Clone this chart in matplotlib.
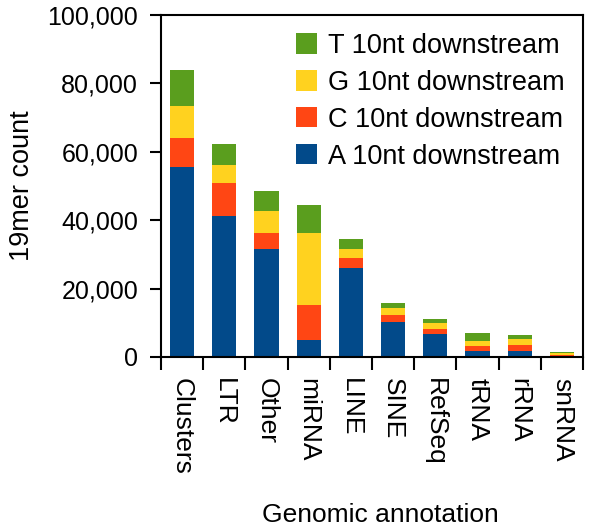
import matplotlib
matplotlib.use("Agg")
import matplotlib.pyplot as plt
import numpy as np
from matplotlib.ticker import FuncFormatter, FixedLocator

plt.rcParams['font.family'] = ['Liberation Sans', 'DejaVu Sans']

categories = ["Clusters", "LTR", "Other", "miRNA", "LINE", "SINE", "RefSeq", "tRNA", "rRNA", "snRNA"]
A_vals = [55500, 41100, 31700, 5000, 26000, 10100, 6700, 1900, 1700, 300]
C_vals = [8600, 9700, 4500, 10200, 2900, 2200, 1400, 1200, 1900, 300]
G_vals = [9300, 5400, 6400, 21000, 2800, 1900, 1700, 1700, 1700, 500]
T_vals = [10400, 6200, 5900, 8200, 2900, 1700, 1400, 2200, 1000, 400]
series_labels = ["A 10nt downstream", "C 10nt downstream", "G 10nt downstream", "T 10nt downstream"]
colors = ["#024a8a", "#ff4614", "#ffd21f", "#5a9e1e"]
yticks = [0, 20000, 40000, 60000, 80000, 100000]

fig = plt.figure(figsize=(6.0, 5.26), dpi=100)
ax = fig.add_axes([161/600, 1-357/526, (583-161)/600, (357-15)/526])

x = np.arange(len(categories))
bottom = np.zeros(len(categories))
handles = []
for vals, lab, col in zip([A_vals, C_vals, G_vals, T_vals], series_labels, colors):
    b = ax.bar(x, vals, width=0.57, bottom=bottom, color=col, label=lab, linewidth=0)
    handles.append(b)
    bottom += np.array(vals)

ax.set_xlim(-0.5, len(categories) - 0.5)
ax.set_ylim(0, 100000)

# major ticks at boundaries (no labels), minor at centers with labels
ax.xaxis.set_major_locator(FixedLocator(np.arange(-0.5, len(categories), 1)))
ax.xaxis.set_major_formatter(FuncFormatter(lambda v, p: ""))
ax.xaxis.set_minor_locator(FixedLocator(x))
ax.set_xticks(x, categories, minor=True, rotation=270)
ax.tick_params(axis='x', which='major', length=9, width=1.5, direction='out')
ax.tick_params(axis='x', which='minor', length=0, pad=15, labelsize=19)

ax.set_yticks(yticks)
ax.yaxis.set_major_formatter(FuncFormatter(lambda v, p: f"{int(v):,}"))
ax.tick_params(axis='y', length=8, width=1.5, direction='out', pad=8.5, labelsize=18)

for s in ax.spines.values():
    s.set_linewidth(1.5)

ax.set_ylabel("19mer count", fontsize=19.5, labelpad=9)
fig.text(380/600, 1-515/526, "Genomic annotation", fontsize=19, ha='center', va='center')

leg = fig.legend(handles[::-1], series_labels[::-1], loc='upper left',
                 bbox_to_anchor=(296/600, 1-33/526), frameon=False,
                 fontsize=19.5, handlelength=0.78, handleheight=0.78,
                 handletextpad=0.41, labelspacing=0.4, borderpad=0, borderaxespad=0)

fig.savefig("out.png", dpi=100)
